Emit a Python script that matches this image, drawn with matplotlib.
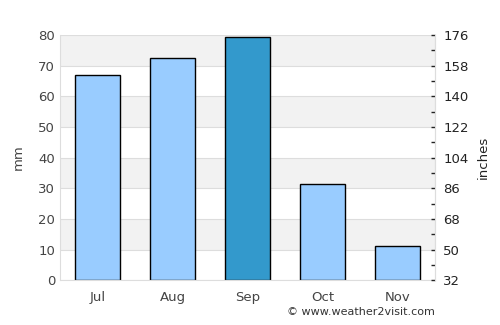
import matplotlib
matplotlib.use("Agg")
import matplotlib.pyplot as plt
from matplotlib.ticker import MultipleLocator

months = ["Jul", "Aug", "Sep", "Oct", "Nov"]
rain_mm = [67.0, 72.5, 79.3, 31.3, 11.1]
colors = ["#99ccff", "#99ccff", "#3399cc", "#99ccff", "#99ccff"]
left_ticks = [0, 10, 20, 30, 40, 50, 60, 70, 80]
right_labels = ["32", "50", "68", "86", "104", "122", "140", "158", "176"]

txt = "#444444"
fig = plt.figure(figsize=(5, 3.25), dpi=100)
ax = fig.add_axes([0.12, 0.138, 0.75, 0.754])

for i in range(0, 80, 20):
    ax.axhspan(i + 10, i + 20, color="#f2f2f2", zorder=0, lw=0)
for t in left_ticks:
    ax.axhline(t, color="#dddddd", lw=0.8, zorder=0.5)

x = list(range(len(months)))
ax.bar(x, rain_mm, width=0.6, color=colors, edgecolor="black", linewidth=1, zorder=2)
ax.set_xlim(-0.5, 4.5)
ax.set_ylim(0, 80)
ax.set_xticks(x)
ax.set_xticklabels(months)
ax.set_yticks(left_ticks)
ax.tick_params(axis="both", length=0, colors=txt, labelsize=9.5)
ax.tick_params(axis="x", pad=8)
ax.set_ylabel("mm", color=txt, fontsize=9.5, labelpad=10)
for s in ax.spines.values():
    s.set_color("#dddddd")
ax.spines["top"].set_visible(False)

ax2 = ax.twinx()
ax2.set_ylim(0, 80)
ax2.set_yticks(left_ticks)
ax2.set_yticklabels(right_labels)
ax2.yaxis.set_minor_locator(MultipleLocator(5))
ax2.tick_params(axis="y", which="both", direction="in", length=3, width=1,
                color="#222222", labelcolor="#222222", labelsize=9.5, pad=6)
ax2.set_ylabel("inches", color="#222222", fontsize=9.5, labelpad=6)
for s in ax2.spines.values():
    s.set_visible(False)
ax2.spines["right"].set_visible(True)
ax2.spines["right"].set_color("#dddddd")

fig.text(0.87, 0.025, "© www.weather2visit.com", ha="right", va="bottom", fontsize=8, color="#333333")
fig.savefig("out.png", dpi=100)
